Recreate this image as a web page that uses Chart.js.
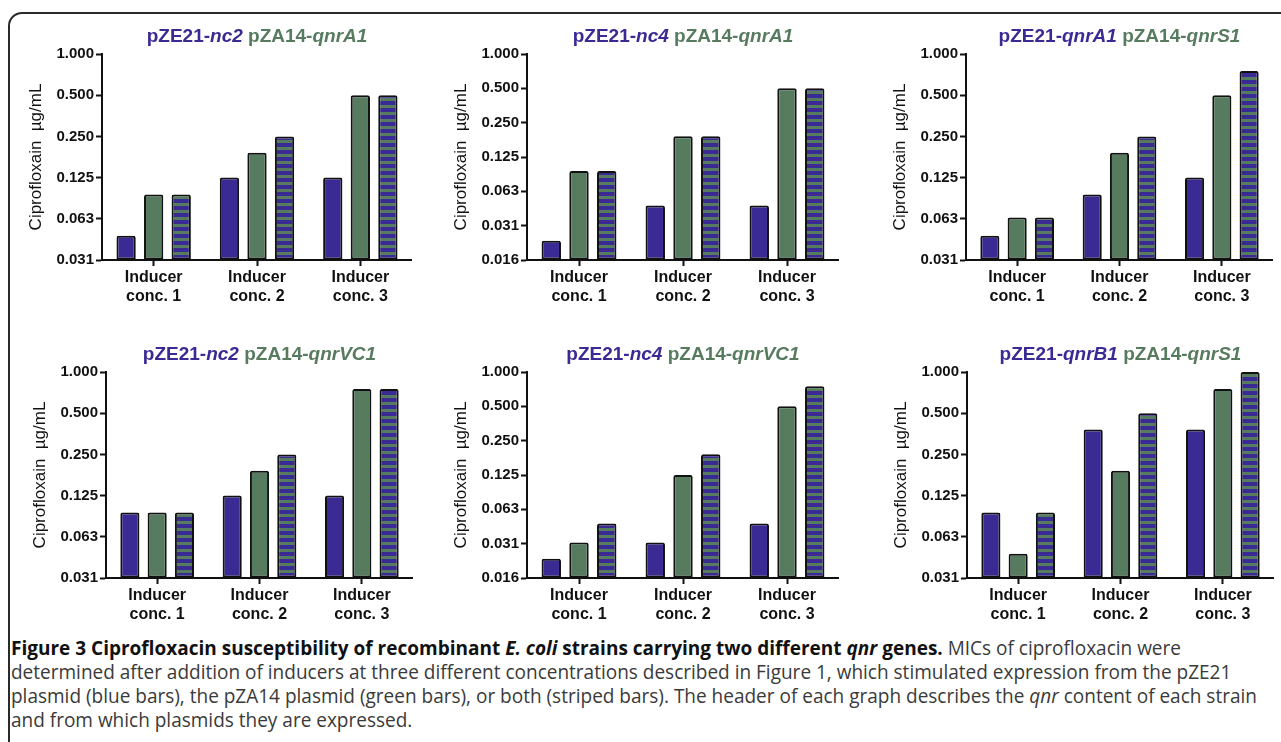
<!DOCTYPE html>
<html>
<head>
<meta charset="utf-8">
<script src="https://cdn.jsdelivr.net/npm/chart.js@4.4.1/dist/chart.umd.min.js"></script>
<style>
  html, body { margin: 0; padding: 0; background: #fff; width: 1281px; height: 742px; overflow: hidden; }
  #frame { position: absolute; left: 8px; top: 12px; width: 1320px; height: 800px;
           border: 2px solid #2a2a2a; border-radius: 14px; box-sizing: border-box; }
  .panel { position: absolute; }
  #caption { position: absolute; left: 11px; top: 636px; width: 1400px;
             font-family: "Open Sans", sans-serif; font-size: 20px; line-height: 24px;
             color: #3a3a3a; white-space: nowrap; transform-origin: 0 0; transform: scaleX(0.95); }
  #caption b { color: #111; }
</style>
</head>
<body>
<div id="frame"></div>
<canvas id="c1" class="panel"></canvas>
<canvas id="c2" class="panel"></canvas>
<canvas id="c3" class="panel"></canvas>
<canvas id="c4" class="panel"></canvas>
<canvas id="c5" class="panel"></canvas>
<canvas id="c6" class="panel"></canvas>
<div id="caption">
<b>Figure 3 Ciprofloxacin susceptibility of recombinant <i>E. coli</i> strains carrying two different <i>qnr</i> genes.</b> MICs of ciprofloxacin were<br>
determined after addition of inducers at three different concentrations described in Figure 1, which stimulated expression from the pZE21<br>
plasmid (blue bars), the pZA14 plasmid (green bars), or both (striped bars). The header of each graph describes the <i>qnr</i> content of each strain<br>
and from which plasmids they are expressed.
</div>
<script>
"use strict";

const BLUE = "#3a2a94";
const GREEN = "#577b5f";

// categories
const categories = [["Inducer", "conc. 1"], ["Inducer", "conc. 2"], ["Inducer", "conc. 3"]];

// y tick values (log2 steps) and their printed labels
const ticksLow = [0.015625, 0.03125, 0.0625, 0.125, 0.25, 0.5, 1];
const labelsLow = ["0.016", "0.031", "0.063", "0.125", "0.250", "0.500", "1.000"];
const ticksMid = [0.03125, 0.0625, 0.125, 0.25, 0.5, 1];
const labelsMid = ["0.031", "0.063", "0.125", "0.250", "0.500", "1.000"];

// titles: [blue prefix, blue italic, green prefix, green italic]
const title1 = ["pZE21-", "nc2", "pZA14-", "qnrA1"];
const title2 = ["pZE21-", "nc4", "pZA14-", "qnrA1"];
const title3 = ["pZE21-", "qnrA1", "pZA14-", "qnrS1"];
const title4 = ["pZE21-", "nc2", "pZA14-", "qnrVC1"];
const title5 = ["pZE21-", "nc4", "pZA14-", "qnrVC1"];
const title6 = ["pZE21-", "qnrB1", "pZA14-", "qnrS1"];

// MIC values: pZE21 (blue), pZA14 (green), both (striped)
const blue1 = [0.047, 0.125, 0.125];
const green1 = [0.094, 0.19, 0.5];
const both1 = [0.094, 0.25, 0.5];

const blue2 = [0.023, 0.047, 0.047];
const green2 = [0.094, 0.19, 0.5];
const both2 = [0.094, 0.19, 0.5];

const blue3 = [0.047, 0.094, 0.125];
const green3 = [0.064, 0.19, 0.5];
const both3 = [0.064, 0.25, 0.75];

const blue4 = [0.094, 0.125, 0.125];
const green4 = [0.094, 0.19, 0.75];
const both4 = [0.094, 0.25, 0.75];

const blue5 = [0.023, 0.032, 0.047];
const green5 = [0.032, 0.125, 0.5];
const both5 = [0.047, 0.19, 0.75];

const blue6 = [0.094, 0.38, 0.38];
const green6 = [0.047, 0.19, 0.75];
const both6 = [0.094, 0.5, 1.0];

const FONT = "'Liberation Sans', Arial, sans-serif";

// horizontal stripes for the "both" bars
function stripes() {
  const c = document.createElement("canvas");
  c.width = 8; c.height = 7;
  const g = c.getContext("2d");
  g.fillStyle = BLUE; g.fillRect(0, 0, 8, 7);
  g.fillStyle = GREEN; g.fillRect(0, 4, 8, 3);
  return g.createPattern(c, "repeat");
}
const stripePattern = stripes();

// draws the two-colour, part-italic header above the plot area
const headerPlugin = {
  id: "header",
  afterDraw(chart, args, opts) {
    const ctx = chart.ctx;
    const parts = opts.parts;
    const styles = [
      { color: BLUE, italic: false }, { color: BLUE, italic: true },
      { color: GREEN, italic: false }, { color: GREEN, italic: true }
    ];
    const fontFor = (it) => (it ? "italic " : "") + "bold 19px " + FONT;
    const texts = [parts[0], parts[1] + " ", parts[2], parts[3]];
    let total = 0;
    const widths = texts.map((t, i) => {
      ctx.font = fontFor(styles[i].italic);
      const w = ctx.measureText(t).width;
      total += w;
      return w;
    });
    const area = chart.chartArea;
    let x = (area.left + area.right) / 2 - total / 2;
    const y = area.top - 17;
    ctx.save();
    ctx.textBaseline = "middle";
    ctx.textAlign = "left";
    texts.forEach((t, i) => {
      ctx.font = fontFor(styles[i].italic);
      ctx.fillStyle = styles[i].color;
      ctx.fillText(t, x, y);
      x += widths[i];
    });
    ctx.restore();
  }
};

function makeChart(id, box, parts, tickVals, tickLabels, blue, green, both) {
  const el = document.getElementById(id);
  el.style.left = box.left + "px";
  el.style.top = box.top + "px";
  el.style.width = box.width + "px";
  el.style.height = "300px";
  return new Chart(el, {
    type: "bar",
    data: {
      labels: categories,
      datasets: [
        { data: blue, backgroundColor: BLUE },
        { data: green, backgroundColor: GREEN },
        { data: both, backgroundColor: stripePattern }
      ]
    },
    plugins: [headerPlugin],
    options: {
      responsive: false,
      animation: false,
      devicePixelRatio: 1,
      layout: { padding: { top: 44, right: 0, bottom: 0, left: 0 } },
      datasets: {
        bar: {
          borderColor: "#111",
          borderWidth: 2,
          borderSkipped: false,
          borderRadius: { topLeft: 2, topRight: 2, bottomLeft: 0, bottomRight: 0 },
          categoryPercentage: 0.8,
          barPercentage: 0.7,
          base: tickVals[0]
        }
      },
      plugins: {
        legend: { display: false },
        tooltip: { enabled: false },
        header: { parts: parts }
      },
      scales: {
        x: {
          grid: { display: true, drawOnChartArea: false, offset: false, tickLength: 6, tickWidth: 2, tickColor: "#111" },
          border: { display: true, color: "#111", width: 2 },
          ticks: {
            color: "#111", padding: 2, maxRotation: 0,
            font: { family: FONT, size: 16, weight: "bold", lineHeight: 1.2 }
          },
          afterFit(scale) { scale.height = 50; }
        },
        y: {
          type: "logarithmic",
          min: tickVals[0],
          max: tickVals[tickVals.length - 1],
          grid: { display: true, drawOnChartArea: false, tickLength: 6, tickWidth: 2, tickColor: "#111" },
          border: { display: true, color: "#111", width: 2 },
          afterBuildTicks(scale) { scale.ticks = tickVals.map((v) => ({ value: v })); },
          ticks: {
            color: "#111", padding: 2,
            font: { family: FONT, size: 15, weight: "bold" },
            callback: (v) => tickLabels[tickVals.indexOf(v)]
          },
          title: {
            display: true,
            text: "Ciprofloxain  \u00b5g/mL",
            color: "#111",
            padding: { top: 6, bottom: 0 },
            font: { family: FONT, size: 17 }
          },
          afterFit(scale) { scale.width = box.axis; }
        }
      }
    }
  });
}

makeChart("c1", { left: 20, top: 10, width: 392, axis: 82 }, title1, ticksMid, labelsMid, blue1, green1, both1);
makeChart("c2", { left: 445, top: 10, width: 394, axis: 82 }, title2, ticksLow, labelsLow, blue2, green2, both2);
makeChart("c3", { left: 884, top: 10, width: 389, axis: 82 }, title3, ticksMid, labelsMid, blue3, green3, both3);
makeChart("c4", { left: 24, top: 328, width: 389, axis: 82 }, title4, ticksMid, labelsMid, blue4, green4, both4);
makeChart("c5", { left: 445, top: 328, width: 394, axis: 82 }, title5, ticksLow, labelsLow, blue5, green5, both5);
makeChart("c6", { left: 885, top: 328, width: 389, axis: 82 }, title6, ticksMid, labelsMid, blue6, green6, both6);
</script>
</body>
</html>
